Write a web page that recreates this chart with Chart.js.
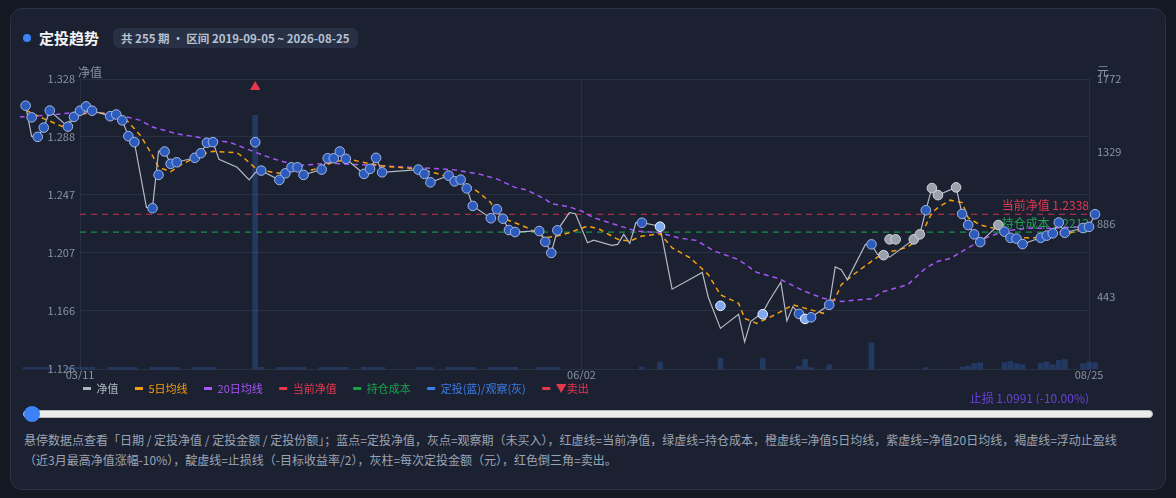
<!DOCTYPE html>
<html lang="zh-CN">
<head>
<meta charset="utf-8">
<title>定投趋势</title>
<script src="https://cdn.jsdelivr.net/npm/chart.js@4.4.1/dist/chart.umd.min.js"></script>
<style>
  html, body { margin: 0; padding: 0; width: 1176px; height: 498px; overflow: hidden; background: #131823;
    font-family: "Noto Sans CJK SC", "Noto Sans", sans-serif; }
  .card { position: absolute; left: 10px; top: 8px; width: 1154px; height: 480px; background: #1b2131;
    border: 1px solid #2a3243; border-radius: 12px; }
  .dot { position: absolute; left: 23px; top: 34px; width: 8px; height: 8px; border-radius: 50%; background: #3b82f6; }
  .title { position: absolute; left: 39px; top: 27px; line-height: 22px; font-size: 15px; font-weight: 700; color: #f3f4f6; }
  .badge { position: absolute; left: 113px; top: 28px; height: 20px; line-height: 20px; padding: 0 8px; border-radius: 6px;
    background: #273044; color: #b8c1d1; font-size: 11.5px; font-weight: 700; white-space: nowrap; }
  .wrap { position: absolute; left: 20px; top: 56px; width: 1136px; height: 348px; }
  input[type=range] { position: absolute; left: 23px; top: 406px; width: 1130px; height: 16px; margin: 0;
    -webkit-appearance: none; appearance: none; background: transparent; }
  input[type=range]::-webkit-slider-runnable-track { height: 8px; background: #ececec; border: 1px solid #b9b9b9; border-radius: 5px; }
  input[type=range]::-webkit-slider-thumb { -webkit-appearance: none; width: 16px; height: 16px; border-radius: 50%;
    background: #3b82f6; border: none; margin-top: -5px; }
  .desc { position: absolute; left: 24px; top: 430px; width: 1140px; font-size: 12px; line-height: 20px; color: #9ba4b4; white-space: nowrap; }
</style>
</head>
<body>
<div class="card"></div>
<div class="dot"></div>
<div class="title">定投趋势</div>
<div class="badge">共 255 期 • 区间 2019-09-05 ~ 2026-08-25</div>
<div class="wrap"><canvas id="dcaChart"></canvas></div>
<input type="range" min="0" max="254" value="0">
<div class="desc">悬停数据点查看「日期 / 定投净值 / 定投金额 / 定投份额」；蓝点=定投净值，灰点=观察期（未买入），红虚线=当前净值，绿虚线=持仓成本，橙虚线=净值5日均线，紫虚线=净值20日均线，褐虚线=浮动止盈线<br>（近3月最高净值涨幅-10%），靛虚线=止损线（-目标收益率/2），灰柱=每次定投金额（元），红色倒三角=卖出。</div>

<script>
// x = days since 03/11
const xTickDays = [0, 83, 167];
const xTickLabels = ['03/11', '06/02', '08/25'];

const navTicks = { min: 1.126, max: 1.328, step: 0.0404 };
const amountTicks = { min: 0, max: 1772, step: 443 };

const navDays = [-9, -8, -7, -6, -5, -2, -1, 0, 1, 2, 5, 6, 7, 8, 9, 11, 12, 13, 14, 15, 16, 19, 20, 21, 22, 23, 26, 28, 29, 30,
  33, 34, 35, 36, 37, 40, 41, 42, 43, 44, 47, 48, 49, 50, 56, 57, 58, 61, 62, 63, 64, 65, 68, 69, 70, 71, 72, 75, 76, 77,
  78, 79, 81, 82, 84, 85, 88, 89, 90, 91, 92, 93, 95, 96, 97, 98, 103, 104, 106, 109, 110, 111, 113, 114, 116, 117, 118, 119, 120, 121,
  124, 125, 126, 127, 130, 131, 132, 133, 134, 138, 139, 140, 141, 142, 145, 146, 147, 148, 149, 152, 153, 154, 155, 156, 159, 160, 161, 162, 163, 166,
  167, 168];
const navValues = [1.3094, 1.2880, 1.2877, 1.2941, 1.3059, 1.2948, 1.3016, 1.3059, 1.3089, 1.3059, 1.3021, 1.3033, 1.2992, 1.2882, 1.2840, 1.2386, 1.2383, 1.2777, 1.2775, 1.2689, 1.2700, 1.2731, 1.2763, 1.2836, 1.2840, 1.2720, 1.2665, 1.2577, 1.2628, 1.2642,
  1.2577, 1.2623, 1.2665, 1.2665, 1.2612, 1.2649, 1.2728, 1.2728, 1.2775, 1.2724, 1.2619, 1.2654, 1.2731, 1.2630, 1.2649, 1.2619, 1.2560, 1.2607, 1.2567, 1.2579, 1.2518, 1.2396, 1.2310, 1.2373, 1.2307, 1.2228, 1.2214, 1.2221, 1.2221, 1.2146,
  1.2069, 1.2226, 1.2349, 1.2342, 1.2139, 1.2158, 1.2121, 1.2128, 1.2198, 1.2135, 1.2279, 1.2279, 1.2263, 1.2251, 1.2034, 1.1816, 1.1933, 1.1758, 1.1543, 1.1641, 1.1449, 1.1590, 1.1653, 1.1730, 1.1865, 1.1595, 1.1695, 1.1644, 1.1609, 1.1620,
  1.1707, 1.1971, 1.1952, 1.1882, 1.2128, 1.2128, 1.2058, 1.2053, 1.2039, 1.2163, 1.2198, 1.2366, 1.2520, 1.2471, 1.2525, 1.2340, 1.2263, 1.2198, 1.2144, 1.2263, 1.2217, 1.2174, 1.2168, 1.2130, 1.2174, 1.2189, 1.2205, 1.2280, 1.2209, 1.2242,
  1.2250, 1.2338];

const ma5Days = [-9, -6, -4, -3, -1, 0, 2, 6, 8, 10, 12, 13, 15, 17, 20, 22, 26, 27, 29, 31, 33, 35, 37, 40, 42, 45, 48, 51, 56, 59,
  61, 64, 66, 68, 69, 72, 74, 76, 77, 79, 81, 84, 86, 89, 91, 93, 96, 98, 101, 104, 106, 109, 110, 112, 115, 118, 121, 123, 125, 126,
  128, 131, 133, 135, 137, 139, 141, 142, 144, 146, 147, 149, 152, 154, 156, 159, 161, 164, 167];
const ma5Values = [1.3063, 1.3004, 1.2969, 1.2950, 1.3004, 1.3035, 1.3044, 1.3039, 1.2981, 1.2887, 1.2747, 1.2665, 1.2635, 1.2689, 1.2752, 1.2777, 1.2766, 1.2735, 1.2661, 1.2637, 1.2623, 1.2654, 1.2630, 1.2665, 1.2705, 1.2717, 1.2689, 1.2670, 1.2654, 1.2623,
  1.2595, 1.2548, 1.2490, 1.2419, 1.2326, 1.2279, 1.2244, 1.2198, 1.2174, 1.2186, 1.2209, 1.2256, 1.2233, 1.2163, 1.2151, 1.2186, 1.2202, 1.2104, 1.2034, 1.1917, 1.1777, 1.1718, 1.1613, 1.1578, 1.1637, 1.1707, 1.1672, 1.1648, 1.1753, 1.1847,
  1.1917, 1.2010, 1.2069, 1.2085, 1.2109, 1.2174, 1.2349, 1.2384, 1.2436, 1.2419, 1.2314, 1.2263, 1.2233, 1.2186, 1.2174, 1.2174, 1.2191, 1.2209, 1.2240];

const ma20Days = [-10, -5, 0, 6, 10, 12, 16, 21, 25, 29, 32, 35, 36, 41, 47, 52, 58, 62, 66, 69, 72, 74, 77, 78, 81, 83, 85, 89, 92, 96,
  99, 102, 105, 109, 112, 115, 116, 120, 123, 126, 129, 131, 133, 137, 140, 142, 144, 147, 150, 153, 157, 161, 164, 167];
const ma20Values = [1.3016, 1.3028, 1.3051, 1.3035, 1.2992, 1.2945, 1.2899, 1.2864, 1.2836, 1.2770, 1.2724, 1.2689, 1.2677, 1.2693, 1.2682, 1.2670, 1.2658, 1.2647, 1.2619, 1.2584, 1.2525, 1.2506, 1.2443, 1.2412, 1.2389, 1.2361, 1.2314, 1.2261, 1.2221, 1.2209,
  1.2174, 1.2156, 1.2081, 1.2022, 1.1933, 1.1898, 1.1882, 1.1800, 1.1753, 1.1730, 1.1742, 1.1749, 1.1800, 1.1847, 1.1964, 1.2010, 1.2029, 1.2104, 1.2174, 1.2221, 1.2240, 1.2240, 1.2249, 1.2249];

// 定投 points: day, nav, amount (元)
const buyDays = [-9, -8, -7, -6, -5, -2, -1, 0, 1, 2, 5, 6, 7, 8, 9, 12, 13, 14, 15, 16, 19, 20, 21, 22, 29, 30, 33, 34, 35, 36,
  37, 40, 41, 42, 43, 44, 47, 48, 49, 50, 56, 57, 58, 61, 62, 63, 64, 65, 68, 69, 70, 71, 72, 76, 77, 78, 79, 93, 96, 106,
  113, 119, 120, 121, 124, 131, 140, 146, 147, 148, 149, 153, 154, 155, 156, 159, 160, 161, 162, 163, 166, 167, 168];
const buyNav = [1.3094, 1.3013, 1.2877, 1.2941, 1.3060, 1.2948, 1.3016, 1.3059, 1.3089, 1.3059, 1.3021, 1.3033, 1.2992, 1.2882, 1.2840, 1.2380, 1.2612, 1.2775, 1.2689, 1.2700, 1.2731, 1.2763, 1.2836, 1.2840, 1.2840, 1.2642, 1.2577, 1.2623, 1.2665, 1.2665,
  1.2612, 1.2649, 1.2728, 1.2728, 1.2775, 1.2724, 1.2619, 1.2654, 1.2731, 1.2630, 1.2649, 1.2619, 1.2560, 1.2607, 1.2567, 1.2579, 1.2518, 1.2396, 1.2310, 1.2373, 1.2307, 1.2228, 1.2214, 1.2221, 1.2146, 1.2069, 1.2226, 1.2279, 1.2251, 1.1700,
  1.1641, 1.1644, 1.1609, 1.1620, 1.1707, 1.2128, 1.2366, 1.2340, 1.2263, 1.2198, 1.2144, 1.2217, 1.2174, 1.2168, 1.2130, 1.2174, 1.2189, 1.2205, 1.2280, 1.2209, 1.2242, 1.2250, 1.2338];
const buyAmount = [10, 10, 10, 10, 10, 10, 10, 10, 10, 10, 10, 10, 10, 10, 10, 10, 10, 10, 10, 10, 10, 10, 10, 10, 1550, 10, 10, 10, 10, 10,
  10, 10, 10, 10, 10, 10, 10, 10, 10, 10, 10, 10, 10, 10, 10, 10, 10, 10, 10, 10, 10, 10, 10, 10, 10, 10, 10, 12, 43, 66,
  66, 17, 58, 8, 26, 160, 8, 12, 18, 33, 39, 39, 46, 33, 26, 34, 43, 26, 52, 58, 33, 43, 39];
const boostDays = [96, 106, 113, 120];

// 观察 points (no purchase)
const watchDays = [133, 134, 135, 138, 139, 141, 142, 145, 152];
const watchNav = [1.2053, 1.2163, 1.2163, 1.2163, 1.2198, 1.2520, 1.2471, 1.2525, 1.2263];

const sellDays = [29];
const sellNav = [1.3224];

const currentNav = 1.2338;
const holdCost = 1.2213;
const stopLoss = 1.0991;
const stopLossPct = -10.00;

const FONT = '"Noto Sans CJK SC", "Noto Sans", sans-serif';
const GRID = '#283042';
const TICK = '#8b93a3';

const pts = (xs, ys) => xs.map((x, i) => ({ x: x, y: ys[i] }));

const markerPoints = buyDays.map((d, i) => ({ x: d, y: buyNav[i], kind: boostDays.includes(d) ? 'boost' : 'buy' }))
  .concat(watchDays.map((d, i) => ({ x: d, y: watchNav[i], kind: 'watch' })))
  .sort((a, b) => a.x - b.x);
const markerFill = { buy: '#2d5bbd', boost: '#7ea9f2', watch: '#9aa1ac' };
const markerEdge = { buy: '#a3b7e0', boost: '#f2f6ff', watch: '#d3d7dd' };

// the series run past the axis ends, so let points draw outside the plot area too
const pointDraw = Chart.PointElement.prototype.draw;
Chart.PointElement.prototype.draw = function (ctx) {
  pointDraw.call(this, ctx, undefined);
};

const overlayPlugin = {
  id: 'overlay',
  beforeDatasetsDraw(chart) {
    const { ctx, chartArea, scales } = chart;
    const y = scales.y;
    ctx.save();
    ctx.font = '12px ' + FONT;
    ctx.textAlign = 'right';
    ctx.textBaseline = 'bottom';
    ctx.fillStyle = '#e5384f';
    ctx.fillText('当前净值 ' + currentNav.toFixed(4), chartArea.right, y.getPixelForValue(currentNav) - 3);
    ctx.fillStyle = '#1fa653';
    ctx.fillText('持仓成本 ' + holdCost.toFixed(4), chartArea.right, y.getPixelForValue(holdCost) - 3);
    ctx.fillStyle = '#6a40d8';
    ctx.fillText('止损 ' + stopLoss.toFixed(4) + ' (' + stopLossPct.toFixed(2) + '%)', chartArea.right, y.getPixelForValue(stopLoss) - 3);
    ctx.restore();
  },
  afterDraw(chart) {
    const { ctx, chartArea } = chart;
    ctx.save();
    ctx.font = '12px ' + FONT;
    ctx.fillStyle = TICK;
    ctx.textBaseline = 'bottom';
    ctx.textAlign = 'left';
    ctx.fillText('净值', chartArea.left - 2, chartArea.top - 1);
    ctx.fillText('元', chartArea.right + 8, chartArea.top - 2);
    ctx.restore();
  }
};

Chart.defaults.font.family = FONT;
Chart.defaults.color = TICK;

new Chart(document.getElementById('dcaChart'), {
  type: 'line',
  data: {
    datasets: [
      {
        label: '净值',
        data: pts(navDays, navValues),
        borderColor: '#b3b9c5',
        borderWidth: 1.2,
        pointRadius: 0,
        clip: false,
        order: 5,
        legendColor: '#aeb5c2'
      },
      {
        label: '5日均线',
        data: pts(ma5Days, ma5Values),
        borderColor: '#f59e0b',
        borderWidth: 1.5,
        borderDash: [5, 4],
        pointRadius: 0,
        clip: false,
        order: 6,
        legendColor: '#f59e0b'
      },
      {
        label: '20日均线',
        data: pts(ma20Days, ma20Values),
        borderColor: '#a855f7',
        borderWidth: 1.5,
        borderDash: [5, 4],
        pointRadius: 0,
        clip: false,
        order: 7,
        legendColor: '#a855f7'
      },
      {
        label: '当前净值',
        data: pts([xTickDays[0], xTickDays[2]], [currentNav, currentNav]),
        borderColor: 'rgba(229,56,79,0.85)',
        borderWidth: 1.2,
        borderDash: [6, 5],
        pointRadius: 0,
        order: 8,
        legendColor: '#e5384f'
      },
      {
        label: '持仓成本',
        data: pts([xTickDays[0], xTickDays[2]], [holdCost, holdCost]),
        borderColor: 'rgba(22,163,74,0.85)',
        borderWidth: 1.2,
        borderDash: [6, 5],
        pointRadius: 0,
        order: 8,
        legendColor: '#16a34a'
      },
      {
        label: '定投(蓝)/观察(灰)',
        type: 'scatter',
        data: markerPoints,
        pointRadius: 4.8,
        pointBorderWidth: 1,
        backgroundColor: c => (c.raw ? markerFill[c.raw.kind] : markerFill.buy),
        borderColor: c => (c.raw ? markerEdge[c.raw.kind] : markerEdge.buy),
        clip: false,
        order: 2,
        legendColor: '#3b7de9'
      },
      {
        label: '▼卖出',
        type: 'scatter',
        data: pts(sellDays, sellNav),
        pointStyle: 'triangle',
        pointRadius: 6,
        pointBorderWidth: 0,
        backgroundColor: '#e5384f',
        clip: false,
        order: 1,
        legendColor: '#e5384f'
      },
      {
        label: '',
        type: 'bar',
        yAxisID: 'y1',
        data: pts(buyDays, buyAmount),
        backgroundColor: 'rgba(59,130,246,0.25)',
        barThickness: 5,
        clip: false,
        order: 9
      }
    ]
  },
  options: {
    responsive: true,
    maintainAspectRatio: false,
    animation: false,
    layout: { padding: { left: 0, right: 10, top: 23, bottom: 0 } },
    scales: {
      x: {
        type: 'linear',
        bounds: 'data',
        offset: false,
        afterDataLimits: s => { s.min = xTickDays[0]; s.max = xTickDays[xTickDays.length - 1]; },
        afterBuildTicks: s => { s.ticks = xTickDays.map(v => ({ value: v })); },
        grid: { color: GRID, drawTicks: false, offset: false },
        border: { display: false },
        ticks: {
          autoSkip: false,
          maxRotation: 0,
          padding: 0,
          font: { size: 11, lineHeight: 1 },
          callback: v => xTickLabels[xTickDays.indexOf(v)] || ''
        }
      },
      y: {
        position: 'left',
        min: navTicks.min,
        max: navTicks.max,
        afterFit: s => { s.width = 60; },
        grid: { color: GRID, drawTicks: false },
        border: { display: false },
        ticks: { stepSize: navTicks.step, padding: 5, font: { size: 11 }, callback: v => v.toFixed(3) }
      },
      y1: {
        position: 'right',
        min: amountTicks.min,
        max: amountTicks.max,
        afterFit: s => { s.width = 57; },
        grid: { display: false, drawTicks: false },
        border: { display: false },
        ticks: { stepSize: amountTicks.step, padding: 8, font: { size: 11 }, callback: v => (v === 0 ? '' : v) }
      }
    },
    plugins: {
      legend: {
        position: 'bottom',
        align: 'start',
        fullSize: false,
        labels: {
          boxWidth: 8,
          boxHeight: 3,
          padding: 3,
          font: { size: 11 },
          generateLabels: chart => chart.data.datasets
            .map((ds, i) => ({
              text: ds.label ? ds.label + '\u3000 ' : '',
              fillStyle: ds.legendColor,
              strokeStyle: ds.legendColor,
              fontColor: ds.legendColor,
              lineWidth: 0,
              hidden: !chart.isDatasetVisible(i),
              datasetIndex: i
            }))
            .filter(item => item.text)
        }
      },
      tooltip: { enabled: true }
    }
  },
  plugins: [overlayPlugin]
});
</script>
</body>
</html>
